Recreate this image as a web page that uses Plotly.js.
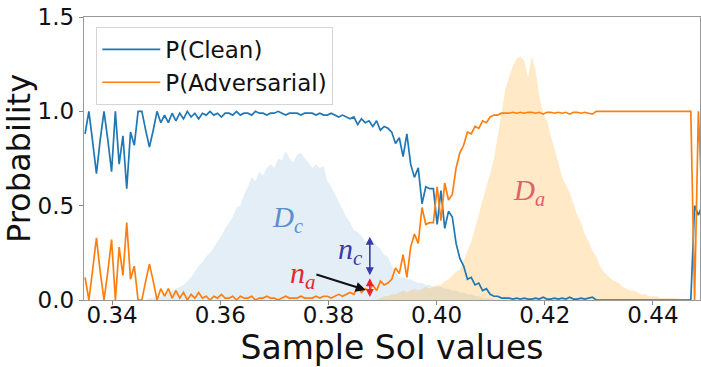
<!DOCTYPE html>
<html>
<head>
<meta charset="utf-8">
<script src="https://cdn.plot.ly/plotly-3.0.1.min.js"></script>
<style>html,body{margin:0;padding:0;background:#fff;}#chart{width:701px;height:367px;}</style>
</head>
<body>
<div id="chart"></div>
<script>
// Sample SoI values start and bin step
const xStart = 0.3350;
const xStep = 0.0007;

// P(Clean) per bin
const pClean = [
0.88,1.00,0.84,0.67,0.85,1.00,0.85,0.68,1.00,0.72,
0.87,0.59,0.89,0.82,1.00,1.00,0.90,0.81,0.90,1.00,
0.94,0.98,0.94,0.99,0.95,0.99,0.96,1.00,0.97,0.99,
0.96,0.99,0.98,1.00,0.98,0.99,0.97,0.99,0.99,0.98,
1.00,0.98,0.99,0.99,0.98,1.00,0.99,0.99,0.98,0.99,
0.99,1.00,0.99,0.98,0.99,0.99,0.99,0.98,0.99,0.99,
0.99,0.98,0.99,0.98,0.98,0.99,0.98,0.97,0.98,0.97,
0.96,0.97,0.93,0.96,0.94,0.95,0.92,0.95,0.90,0.92,
0.91,0.89,0.83,0.86,0.76,0.88,0.72,0.65,0.70,0.51,
0.60,0.59,0.59,0.40,0.58,0.38,0.47,0.44,0.30,0.22,
0.18,0.11,0.12,0.08,0.09,0.05,0.06,0.03,0.02,0.02,
0.01,0.01,0.01,0.005,0.01,0.005,0.01,0.005,0.005,0.01,
0.005,0.015,0.005,0.005,0.01,0.005,0.01,0.005,0.015,0.005,
0.005,0.01,0.005,0.01,0.015,0,0,0,0,0,
0,0,0,0,0,0,0,0,0,0,
0,0,0,0,0,0,0,0,0,0,
0,0.5,0.45,0.5];

// P(Adversarial) per bin
const pAdv = [
0.12,0.00,0.16,0.33,0.15,0.00,0.15,0.32,0.00,0.28,
0.13,0.41,0.11,0.18,0.00,0.00,0.10,0.19,0.10,0.00,
0.06,0.02,0.06,0.01,0.05,0.01,0.04,0.00,0.03,0.01,
0.04,0.01,0.02,0.00,0.02,0.01,0.03,0.01,0.01,0.02,
0.00,0.02,0.01,0.01,0.02,0.00,0.01,0.01,0.02,0.01,
0.01,0.00,0.01,0.02,0.01,0.01,0.01,0.02,0.01,0.01,
0.01,0.02,0.01,0.02,0.02,0.01,0.02,0.03,0.02,0.03,
0.04,0.03,0.07,0.04,0.06,0.05,0.08,0.05,0.10,0.08,
0.09,0.11,0.17,0.14,0.24,0.12,0.28,0.35,0.30,0.49,
0.40,0.41,0.41,0.60,0.42,0.62,0.53,0.56,0.70,0.78,
0.82,0.89,0.88,0.92,0.91,0.95,0.94,0.97,0.98,0.98,
0.99,0.99,0.99,0.995,0.99,0.995,0.99,0.995,0.995,0.99,
0.995,0.985,0.995,0.995,0.99,0.995,0.99,0.995,0.985,0.995,
0.995,0.99,0.995,0.99,0.985,1,1,1,1,1,
1,1,1,1,1,1,1,1,1,1,
1,1,1,1,1,1,1,1,1,1,
1,0,1,0.5];

// D_c : clean sample SoI distribution (same bins)
const dClean = [
0,0,0,0,0,0,0,0,0,0,0,0,0,0,0,0,0,
0.01,0.01,0.02,0.02,0.03,0.04,0.05,0.06,0.07,0.08,
0.10,0.12,0.15,0.18,0.20,0.23,0.25,0.28,0.31,0.34,
0.38,0.41,0.44,0.49,0.50,0.56,0.60,0.65,0.63,0.68,
0.66,0.70,0.72,0.70,0.75,0.74,0.79,0.75,0.73,0.77,
0.78,0.75,0.73,0.70,0.72,0.70,0.71,0.63,0.60,0.56,
0.52,0.48,0.44,0.41,0.37,0.36,0.34,0.31,0.30,0.32,
0.29,0.27,0.24,0.23,0.18,0.15,0.12,0.12,0.11,0.11,
0.10,0.09,0.09,0.08,0.08,0.07,0.07,0.07,0.06,0.06,
0.05,0.05,0.04,0.04,0.03,0.03,0.02,0.02,0.01,0.01,0.01,
0,0,0,0,0,0,0,0,0,0,0,0,0,0,0,0,0,0,0,0,0,0,0,0,0,0,0,0,
0,0,0,0,0,0,0,0,0,0,0,0,0,0,0,0,0,0,0,0,0,0,0,0,0,0,0,0];

// D_a : adversarial sample SoI distribution (same bins)
const dAdv = [
0,0,0,0,0,0,0,0,0,0,0,0,0,0,0,0,0,0,0,0,0,0,0,0,0,0,
0,0,0,0,0,0,0,0,0,0,0,0,0,0,0,0,0,0,0,0,0,0,0,0,0,0,
0,0,0,0,0,0,0,0,0,0,0,0,0,0,0,0,0,0,0,0,0,0,0,0,0,0,
0.01,0.02,0.02,0.03,0.03,0.04,0.05,0.04,0.05,0.06,
0.05,0.06,0.07,0.06,0.07,0.08,0.08,0.10,0.11,0.13,
0.15,0.16,0.21,0.26,0.31,0.38,0.45,0.53,0.60,0.67,
0.75,0.87,0.99,1.12,1.18,1.24,1.28,1.29,1.27,1.18,
1.29,1.22,1.08,0.99,0.95,0.87,0.80,0.73,0.65,0.61,
0.57,0.51,0.45,0.41,0.35,0.31,0.26,0.23,0.18,0.15,
0.13,0.11,0.10,0.09,0.07,0.06,0.05,0.05,0.04,0.03,
0.03,0.02,0.02,0.02,0.01,0.01,0.01,0.01,0.01,0.005,
0.005,0.005,0,0,0,0];

const seriesNames = ['P(Clean)', 'P(Adversarial)'];
const xTickVals = [0.34, 0.36, 0.38, 0.40, 0.42, 0.44];
const xTickText = ['0.34', '0.36', '0.38', '0.40', '0.42', '0.44'];
const yTickVals = [0.0, 0.5, 1.0, 1.5];
const yTickText = ['0.0', '0.5', '1.0', '1.5'];

// annotation anchor points (data coords)
const ncArrow = {x: 0.38765, y0: 0.123, y1: 0.335};
const naArrow = {x: 0.38765, y0: 0.008, y1: 0.115};
const naPointer = {x0: 0.3775, y0: 0.138, x1: 0.3869, y1: 0.053};

const traces = [
  {type:'scatter', mode:'none', x0:xStart, dx:xStep, y:dClean, fill:'tozeroy',
   fillcolor:'rgba(31,119,180,0.12)', showlegend:false, hoverinfo:'skip'},
  {type:'scatter', mode:'none', x0:xStart, dx:xStep, y:dAdv, fill:'tozeroy',
   fillcolor:'rgba(255,165,20,0.24)', showlegend:false, hoverinfo:'skip'},
  {type:'scatter', mode:'lines', name:seriesNames[0], x0:xStart, dx:xStep, y:pClean,
   line:{color:'#1f77b4', width:1.7}},
  {type:'scatter', mode:'lines', name:seriesNames[1], x0:xStart, dx:xStep, y:pAdv,
   line:{color:'#ff7f0e', width:1.7}}
];

const serif = 'Liberation Serif, DejaVu Serif, serif';
const layout = {
  width:701, height:367,
  margin:{l:84, r:1, t:17, b:67},
  paper_bgcolor:'#fff', plot_bgcolor:'#fff',
  font:{family:'DejaVu Sans, sans-serif', color:'#111'},
  showlegend:true,
  legend:{x:0.02, y:0.965, xanchor:'left', yanchor:'top', font:{size:23, color:'#111'},
    itemwidth:58, bgcolor:'rgba(255,255,255,0.85)', bordercolor:'#d5d5d5', borderwidth:1, tracegroupgap:0},
  xaxis:{range:[0.3348, 0.4487], tickvals:xTickVals, ticktext:xTickText,
    tickfont:{size:23}, ticks:'outside', ticklen:4, tickcolor:'#888', ticklabelstandoff:-10,
    showline:true, linecolor:'#999', linewidth:1.2, mirror:true, showgrid:false, zeroline:false,
    title:{text:'Sample SoI values', font:{size:33}, standoff:16}},
  yaxis:{range:[0, 1.5], tickvals:yTickVals, ticktext:yTickText,
    tickfont:{size:23}, ticks:'outside', ticklen:4, tickcolor:'#888',
    showline:true, linecolor:'#999', linewidth:1.2, mirror:true, showgrid:false, zeroline:false,
    title:{text:'Probability', font:{size:32}, standoff:4}},
  annotations:[
    {x:0.3725, y:0.43, xref:'x', yref:'y', text:'<i>D</i><sub><i>c</i></sub>', showarrow:false,
     font:{family:serif, size:29, color:'#5b8fcc'}},
    {x:0.4170, y:0.57, xref:'x', yref:'y', text:'<i>D</i><sub><i>a</i></sub>', showarrow:false,
     font:{family:serif, size:29, color:'#e06068'}},
    {x:0.3840, y:0.26, xref:'x', yref:'y', text:'<i>n</i><sub><i>c</i></sub>', showarrow:false,
     font:{family:serif, size:30, color:'#3b3ba8'}},
    {x:0.3753, y:0.13, xref:'x', yref:'y', text:'<i>n</i><sub><i>a</i></sub>', showarrow:false,
     font:{family:serif, size:30, color:'#e8252e'}},
    {x:ncArrow.x, y:ncArrow.y1, ax:ncArrow.x, ay:ncArrow.y0, xref:'x', yref:'y', axref:'x', ayref:'y',
     text:'', showarrow:true, arrowhead:2, arrowside:'end+start', arrowsize:1, arrowwidth:1.6, arrowcolor:'#3b3ba8', standoff:0, startstandoff:0},
    {x:naArrow.x, y:naArrow.y1, ax:naArrow.x, ay:naArrow.y0, xref:'x', yref:'y', axref:'x', ayref:'y',
     text:'', showarrow:true, arrowhead:2, arrowside:'end+start', arrowsize:1, arrowwidth:1.6, arrowcolor:'#e8252e', standoff:0, startstandoff:0},
    {x:naPointer.x1, y:naPointer.y1, ax:naPointer.x0, ay:naPointer.y0, xref:'x', yref:'y', axref:'x', ayref:'y',
     text:'', showarrow:true, arrowhead:2, arrowsize:1, arrowwidth:2, arrowcolor:'#111', standoff:0}
  ]
};

Plotly.newPlot('chart', traces, layout, {displayModeBar:false, staticPlot:true});
</script>
</body>
</html>
